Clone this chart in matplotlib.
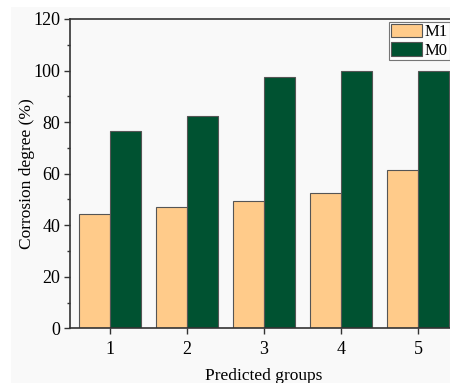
import matplotlib
matplotlib.use("Agg")
import matplotlib.pyplot as plt
from matplotlib.patches import Rectangle
from matplotlib.ticker import MultipleLocator
import numpy as np

groups = ["1", "2", "3", "4", "5"]
m1 = [44.4, 47.1, 49.4, 52.6, 61.6]
m0 = [76.5, 82.5, 97.4, 100.0, 100.0]
series_names = ["M1", "M0"]

plt.rcParams['font.family'] = ['Liberation Serif', 'DejaVu Serif']

W, H = 450, 383
fig = plt.figure(figsize=(W/100, H/100), dpi=100, facecolor='white')
bg = '#f9f9f9'
fig.patches.append(Rectangle((11/W, 0), 1 - 11/W, 1 - 7/H, transform=fig.transFigure,
                             facecolor=bg, edgecolor='none', zorder=-10))

ax = fig.add_axes([70/W, (H-328.3)/H, (458-70)/W, (328.3-19)/H])
ax.set_zorder(5)
ax.set_facecolor(bg)

x = np.arange(1, len(groups)+1)
w = 0.4
ax.bar(x - w/2, m1, width=w, color='#ffcb8a', edgecolor='#555555', linewidth=0.8, label=series_names[0])
ax.bar(x + w/2, m0, width=w, color='#005231', edgecolor='#555555', linewidth=0.8, label=series_names[1])

ax.set_xlim(0.48, 5.52)
ax.set_ylim(0, 120)
ax.set_xticks(x)
ax.set_xticklabels(groups)
ax.yaxis.set_major_locator(MultipleLocator(20))
ax.yaxis.set_minor_locator(MultipleLocator(10))
ax.tick_params(axis='both', which='major', direction='out', length=4, width=1.0, labelsize=13, colors='black')
ax.tick_params(axis='both', which='major', color='#333333')
ax.tick_params(axis='y', which='minor', direction='out', length=2.5, width=1.0, color='#333333')
ax.tick_params(axis='x', pad=5)
ax.tick_params(axis='y', pad=3)
for s in ax.spines.values():
    s.set_linewidth(1.2)
    s.set_color('#333333')

ax.set_ylabel('Corrosion degree (%)', fontsize=12.5, labelpad=-1)
ax.set_xlabel('Predicted groups', fontsize=12.5, labelpad=7)

leg = ax.legend(loc='upper left', bbox_to_anchor=((389-70)/(458-70), 1 - (22-19)/(328.3-19)),
                fontsize=12, frameon=True, fancybox=False, edgecolor='#555555',
                borderpad=0.1, handlelength=1.9, handleheight=0.9, handletextpad=0.15,
                labelspacing=0.1, borderaxespad=0)
leg.get_frame().set_linewidth(0.8)
leg.get_frame().set_facecolor('white')

fig.savefig('out.png', dpi=100, facecolor='white')
